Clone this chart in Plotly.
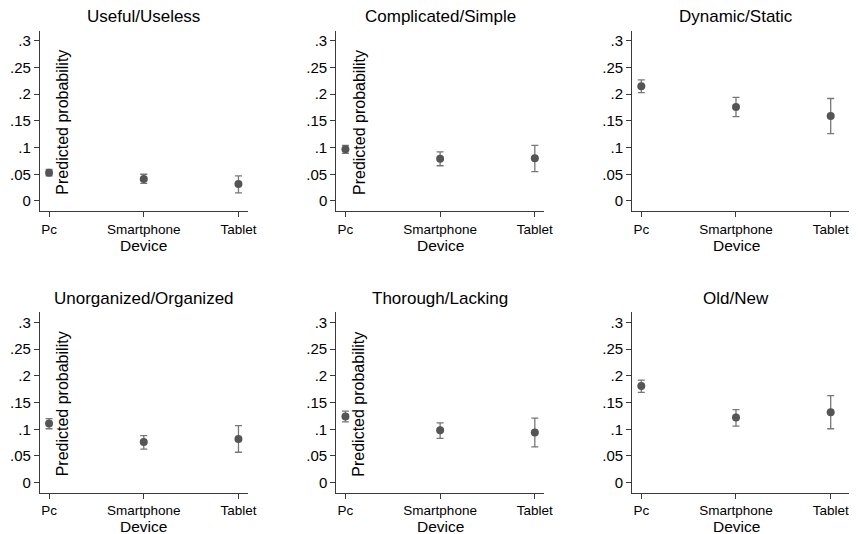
import plotly.graph_objects as go

# Predicted probabilities (with 95% CI) by device, one panel per item
devices = ["Pc", "Smartphone", "Tablet"]
items = ["Useful/Useless", "Complicated/Simple", "Dynamic/Static",
         "Unorganized/Organized", "Thorough/Lacking", "Old/New"]

useful_est = [0.053, 0.041, 0.032]
useful_lo = [0.047, 0.033, 0.015]
useful_hi = [0.059, 0.050, 0.047]

complicated_est = [0.097, 0.079, 0.080]
complicated_lo = [0.089, 0.066, 0.055]
complicated_hi = [0.104, 0.092, 0.104]

dynamic_est = [0.215, 0.176, 0.159]
dynamic_lo = [0.203, 0.158, 0.126]
dynamic_hi = [0.227, 0.194, 0.192]

unorganized_est = [0.111, 0.076, 0.082]
unorganized_lo = [0.101, 0.063, 0.057]
unorganized_hi = [0.120, 0.088, 0.107]

thorough_est = [0.124, 0.098, 0.094]
thorough_lo = [0.114, 0.083, 0.067]
thorough_hi = [0.134, 0.112, 0.121]

oldnew_est = [0.181, 0.122, 0.132]
oldnew_lo = [0.169, 0.106, 0.101]
oldnew_hi = [0.192, 0.137, 0.163]

y_tickvals = [0, 0.05, 0.1, 0.15, 0.2, 0.25, 0.3]
y_ticktext = ["0", ".05", ".1", ".15", ".2", ".25", ".3"]

series = [
    (useful_est, useful_lo, useful_hi),
    (complicated_est, complicated_lo, complicated_hi),
    (dynamic_est, dynamic_lo, dynamic_hi),
    (unorganized_est, unorganized_lo, unorganized_hi),
    (thorough_est, thorough_lo, thorough_hi),
    (oldnew_est, oldnew_lo, oldnew_hi),
]

W, H = 858, 534
FONT = "Arial, 'Liberation Sans', sans-serif"
MARKER = "#555555"
BAR = "#777777"
AXIS = "#3a3a3a"

# plot-area geometry in pixels
col_left = [40.5, 340.0, 639.0]
col_right = [250.5, 550.0, 858.0]
row_top = [30.7, 312.4]
row_bottom = [211.1, 492.8]
unit_px = 95.7          # pixels per category step
x_lo = -0.095
y_range = [-0.019, 0.319]

fig = go.Figure()
annotations = []

for i, (est, lo, hi) in enumerate(series):
    r, c = divmod(i, 3)
    ax = "" if i == 0 else str(i + 1)
    xs = list(range(len(devices)))
    fig.add_trace(go.Scatter(
        x=xs, y=est, mode="markers",
        marker=dict(color=MARKER, size=8),
        error_y=dict(type="data", symmetric=False,
                     array=[h - e for h, e in zip(hi, est)],
                     arrayminus=[e - l for e, l in zip(est, lo)],
                     color=BAR, thickness=1.3, width=3.5),
        xaxis="x" + ax, yaxis="y" + ax, showlegend=False, cliponaxis=False,
    ))
    x0, x1 = col_left[c] / W, col_right[c] / W
    y0, y1 = 1 - row_bottom[r] / H, 1 - row_top[r] / H
    x_hi = x_lo + (col_right[c] - col_left[c]) / unit_px
    fig.update_layout(**{
        "xaxis" + ax: dict(
            domain=[x0, x1], range=[x_lo, x_hi], anchor="y" + ax,
            tickvals=xs, ticktext=devices, ticks="outside", ticklen=5,
            tickwidth=1.2, tickcolor=AXIS, showline=True, linecolor=AXIS,
            linewidth=1.4, showgrid=False, zeroline=False,
            tickfont=dict(size=13.5, color="black", family=FONT),
        ),
        "yaxis" + ax: dict(
            domain=[y0, y1], range=y_range, anchor="x" + ax,
            tickvals=y_tickvals, ticktext=y_ticktext, ticks="outside",
            ticklen=5, tickwidth=1.2, tickcolor=AXIS, showline=True,
            linecolor=AXIS, linewidth=1.4, showgrid=False, zeroline=False,
            tickfont=dict(size=15, color="black", family=FONT),
        ),
    })
    cx = (col_left[c] + 105) / W
    # panel title
    annotations.append(dict(
        text=items[i], x=cx, y=1 - (row_top[r] - 14) / H, xref="paper",
        yref="paper", xanchor="center", yanchor="middle", showarrow=False,
        font=dict(size=17, color="black", family=FONT),
    ))
    # x-axis title
    annotations.append(dict(
        text="Device", x=cx, y=1 - (row_bottom[r] + 34) / H, xref="paper",
        yref="paper", xanchor="center", yanchor="middle", showarrow=False,
        font=dict(size=15.5, color="black", family=FONT),
    ))
    # y-axis title (drawn inside the first two columns)
    if c < 2:
        annotations.append(dict(
            text="Predicted probability", textangle=-90,
            x=(col_left[c] + 22.6) / W,
            y=1 - (row_top[r] + 91.5) / H, xref="paper", yref="paper",
            xanchor="center", yanchor="middle", showarrow=False,
            font=dict(size=16, color="black", family=FONT),
        ))

fig.update_layout(
    width=W, height=H, autosize=False,
    margin=dict(l=0, r=0, t=0, b=0),
    paper_bgcolor="white", plot_bgcolor="white",
    font=dict(family=FONT, color="black"),
    annotations=annotations,
)

fig.write_html("out.html")
